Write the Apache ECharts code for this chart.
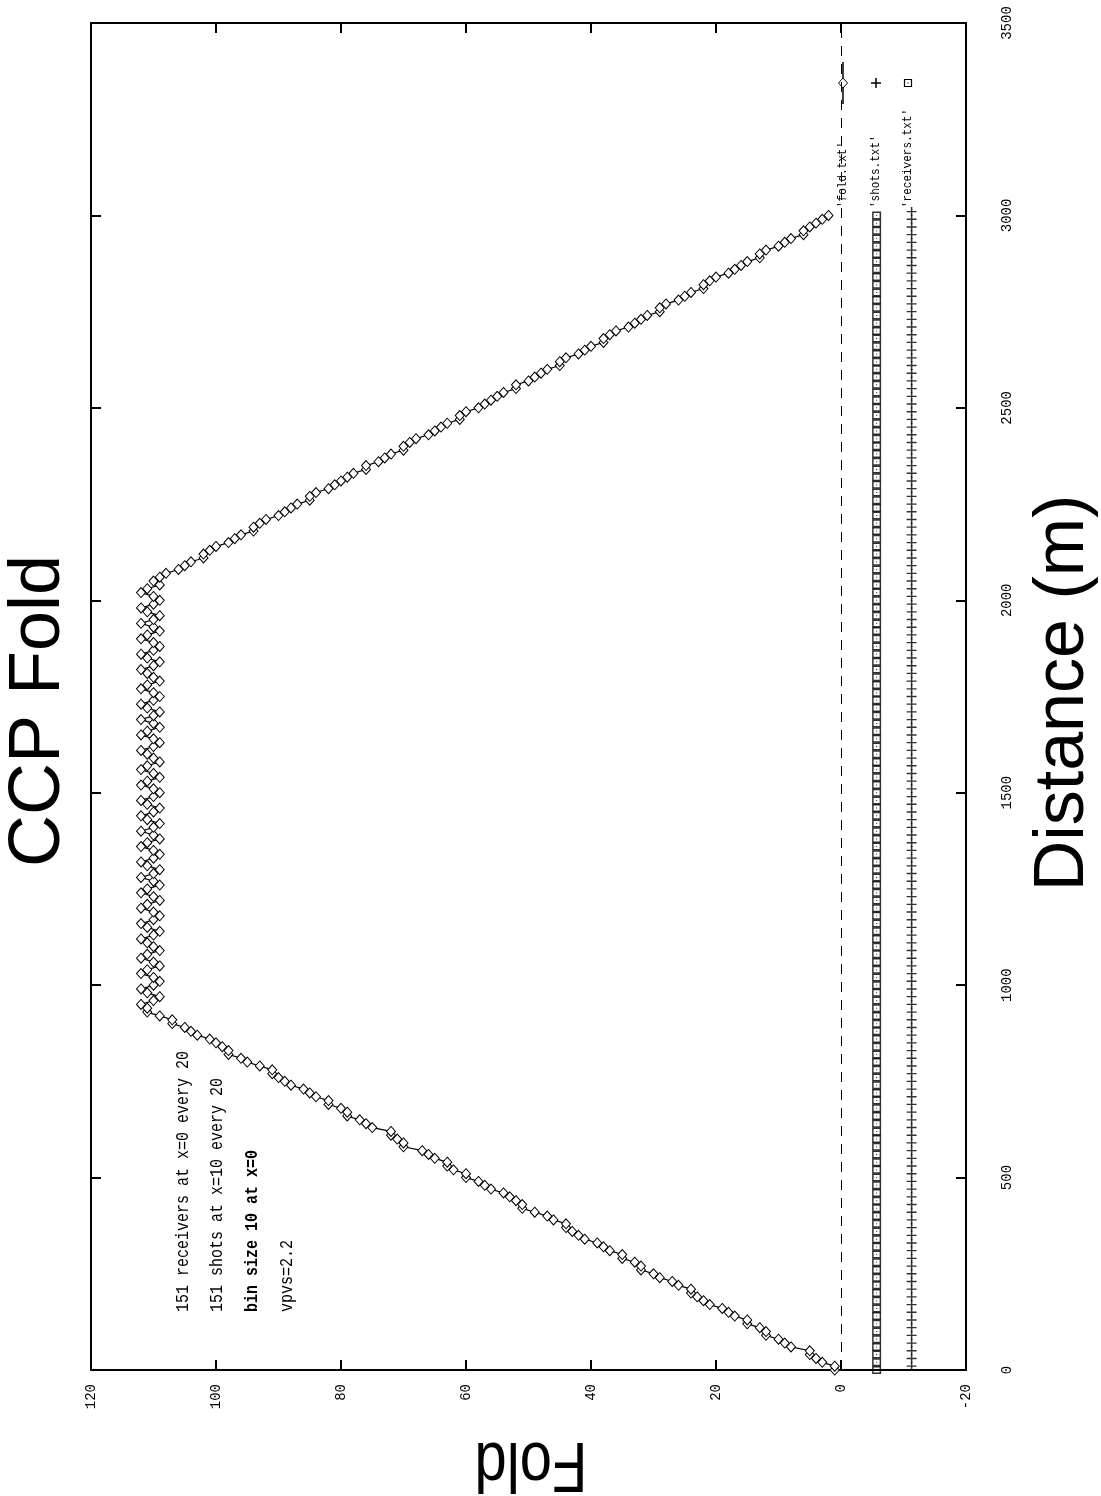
<!DOCTYPE html>
<html><head><meta charset="utf-8">
<script src="https://cdn.jsdelivr.net/npm/echarts@6/dist/echarts.min.js"></script>
<style>html,body{margin:0;padding:0;background:#fff}#c{width:1101px;height:1496px}</style>
</head><body><div id="c"></div>
<script>
// ---- data ----
const binSize = 10;          // "bin size 10 at x=0"
const binStart = 0;
const foldRising = [1,1,3,4,5,5,8,9,10,12,12,13,15,15,17,18,19,21,22,23,24,24,26,27,29,30,32,32,33,35,35,37,38,39,41,42,43,44,44,46,47,49,51,51,52,53,54,56,57,58,60,60,62,63,63,65,66,67,70,70,71,72,72,75,76,77,79,79,80,82,82,84,85,86,88,89,90,91,91,93,95,96,98,98,99,100,101,103,104,105,107,107,109,111,111];
const foldFlat = [112,110,109,111,112,110,109,110,112,111,
  109,110,112,111,109,110,111,112,110,109,
  111,112,110,109,110,112,111,109,110,112,
  111,109,110,112,110,109,111,112,110,109,
  110,112,111,109,110,112,110,109,111,112,
  110,109,111,112,110,109,110,112,111,109,
  110,112,111,109,110,111,112,110,109,110,
  112,111,109,110,112,110,109,111,112,110,
  109,110,112,111,109,110,111,112,110,109,
  111,112,110,109,110,112,111,109,110,112,
  110,109,111,112,110,109,110,112,111,109,
  110,109];
const foldFalling = [108,
  106,105,104,102,102,101,100,
  98,97,96,94,94,93,92,
  90,89,88,87,85,85,84,
  82,81,80,79,78,76,76,
  74,73,72,70,70,69,68,
  66,65,64,63,61,61,60,
  58,57,56,55,54,52,52,
  50,49,48,47,45,45,44,
  42,41,40,38,38,37,36,
  34,33,32,31,29,29,28,
  26,25,24,22,22,21,20,
  18,17,16,15,13,13,12,
  10,9,8,6,6,5,4,
  3,2];
const foldValues = foldRising.concat(foldFlat, foldFalling);

const receiverCount = 151, receiverStart = 0, receiverStep = 20, receiverLevel = -5.7;
const shotCount = 151, shotStart = 10, shotStep = 20, shotLevel = -11.3;

const foldAxisMin = -20, foldAxisMax = 120, foldAxisStep = 20;
const distAxisMin = 0, distAxisMax = 3500, distAxisStep = 500;

const titleText = 'CCP Fold';
const xTitle = 'Distance (m)';
const yTitle = 'Fold';
const notes = ['151 receivers at x=0 every 20', '151 shots at x=10 every 20', 'bin size 10 at x=0', 'vpvs=2.2'];
const legendNames = ["'fold.txt'", "'shots.txt'", "'receivers.txt'"];

// ---- build ----
const foldData = foldValues.map((v, i) => [v, binStart + i * binSize]);
const recData = [], shotData = [];
for (let i = 0; i < receiverCount; i++) recData.push([receiverLevel, receiverStart + i * receiverStep]);
for (let i = 0; i < shotCount; i++) shotData.push([shotLevel, shotStart + i * shotStep]);

const crossPath = 'path://M0,4.25H10V5.75H0Z M4.25,0H5.75V10H4.25Z';
const boxPath = 'path://M0,0H9V8H0Z M1.5,1.5V6.5H7.5V1.5Z M4,3.5H5V4.5H4Z';

const chart = echarts.init(document.getElementById('c'), null, {renderer: 'canvas'});
const lineBlack = {color: '#000', width: 2};
const tickStyle = {show: true, inside: true, length: 10, lineStyle: {color: '#000', width: 2}};
const labelFont = {color: '#000', fontFamily: 'Liberation Mono', fontSize: 14, formatter: v => String(v)};

const G = {left: 91, right: 966, top: 23, bottom: 1370};

const graphics = [
  {type: 'text', x: 39, y: 711, rotation: Math.PI / 2,
    style: {text: titleText, font: '72px "Liberation Sans"', fill: '#000', align: 'center', verticalAlign: 'middle'}},
  {type: 'text', x: 1064, y: 693, rotation: Math.PI / 2,
    style: {text: xTitle, font: '70px "Liberation Sans"', fill: '#000', align: 'center', verticalAlign: 'middle'}},
  {type: 'text', x: 531, y: 1462, rotation: Math.PI, scaleX: 0.83,
    style: {text: yTitle, font: '70px "Liberation Sans"', fill: '#000', align: 'center', verticalAlign: 'middle'}}
];
const noteX = [183, 217, 252, 287];
notes.forEach((t, i) => {
  graphics.push({type: 'text', x: noteX[i], y: 1312, rotation: Math.PI / 2, scaleY: 1.25,
    style: {text: t, font: (i === 2 ? 'bold ' : '') + '15px "Liberation Mono"', fill: '#000', align: 'left', verticalAlign: 'middle'}});
});
const legX = [843, 876, 908];
legendNames.forEach((t, i) => {
  graphics.push({type: 'text', x: legX[i], y: 208, rotation: Math.PI / 2, scaleY: 1.2,
    style: {text: t, font: '11px "Liberation Mono"', fill: '#000', align: 'left', verticalAlign: 'middle'}});
});
// legend samples
graphics.push({type: 'line', shape: {x1: legX[0], y1: 62, x2: legX[0], y2: 104}, style: {stroke: '#000', lineWidth: 1.5}});
graphics.push({type: 'polygon', shape: {points: [[legX[0], 78], [legX[0] + 4.5, 83], [legX[0], 88], [legX[0] - 4.5, 83]]}, style: {fill: '#fff', stroke: '#000', lineWidth: 1}});
graphics.push({type: 'rect', shape: {x: legX[1] - 5, y: 82.25, width: 10, height: 1.5}, style: {fill: '#000'}});
graphics.push({type: 'rect', shape: {x: legX[1] - 0.75, y: 78, width: 1.5, height: 10}, style: {fill: '#000'}});
graphics.push({type: 'rect', shape: {x: legX[2] - 3.5, y: 79.5, width: 7, height: 7}, style: {fill: '#fff', stroke: '#000', lineWidth: 1.2}});
graphics.push({type: 'rect', shape: {x: legX[2] - 0.5, y: 82.5, width: 1, height: 1}, style: {fill: '#000'}});

chart.setOption({
  animation: false,
  backgroundColor: '#fff',
  grid: {left: G.left, right: 1101 - G.right, top: G.top, bottom: 1496 - G.bottom, containLabel: false},
  xAxis: [
    {type: 'value', min: foldAxisMin, max: foldAxisMax, interval: foldAxisStep, inverse: true, position: 'bottom',
      axisLine: {show: true, onZero: false, lineStyle: lineBlack}, axisTick: tickStyle,
      axisLabel: Object.assign({rotate: 90, margin: 14}, labelFont), splitLine: {show: false}},
    {type: 'value', min: foldAxisMin, max: foldAxisMax, interval: foldAxisStep, inverse: true, position: 'top',
      axisLine: {show: true, onZero: false, lineStyle: lineBlack}, axisTick: tickStyle,
      axisLabel: {show: false}, splitLine: {show: false}}
  ],
  yAxis: [
    {type: 'value', min: distAxisMin, max: distAxisMax, interval: distAxisStep, position: 'right',
      axisLine: {show: true, onZero: false, lineStyle: lineBlack}, axisTick: tickStyle,
      axisLabel: Object.assign({rotate: 90, margin: 34}, labelFont), splitLine: {show: false}},
    {type: 'value', min: distAxisMin, max: distAxisMax, interval: distAxisStep, position: 'left',
      axisLine: {show: true, onZero: false, lineStyle: lineBlack}, axisTick: tickStyle,
      axisLabel: {show: false}, splitLine: {show: false}}
  ],
  series: [
    {name: legendNames[0], type: 'line', xAxisIndex: 0, yAxisIndex: 0, data: foldData,
      showSymbol: true, showAllSymbol: true, symbol: 'diamond', symbolSize: [9, 10],
      itemStyle: {color: '#fff', borderColor: '#000', borderWidth: 1},
      lineStyle: {color: '#000', width: 1.2}, z: 3,
      markLine: {silent: true, symbol: 'none', label: {show: false},
        lineStyle: {type: [10, 8], color: '#000', width: 1}, data: [{xAxis: 0}]}},
    {name: legendNames[1], type: 'scatter', xAxisIndex: 0, yAxisIndex: 0, data: shotData,
      symbol: crossPath, symbolSize: [10, 9], itemStyle: {color: '#000'}},
    {name: legendNames[2], type: 'scatter', xAxisIndex: 0, yAxisIndex: 0, data: recData,
      symbol: boxPath, symbolSize: [9, 8], itemStyle: {color: '#000'}}
  ],
  graphic: graphics
});
</script></body></html>
